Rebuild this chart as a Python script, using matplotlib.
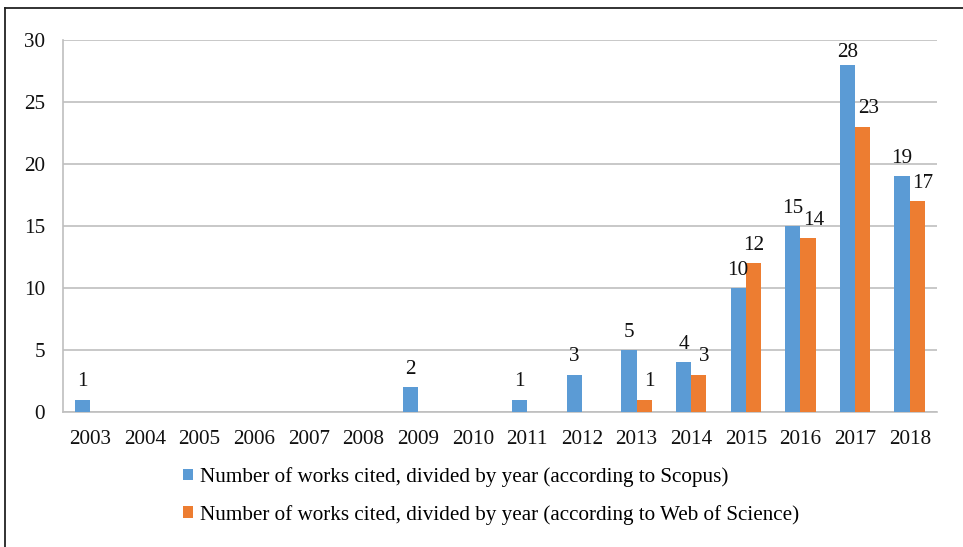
import matplotlib
matplotlib.use("Agg")
import matplotlib.pyplot as plt
from matplotlib.lines import Line2D
from matplotlib.patches import Patch
import numpy as np

years = ["2003", "2004", "2005", "2006", "2007", "2008", "2009", "2010",
         "2011", "2012", "2013", "2014", "2015", "2016", "2017", "2018"]
scopus = [1, 0, 0, 0, 0, 0, 2, 0, 1, 3, 5, 4, 10, 15, 28, 19]
wos = [0, 0, 0, 0, 0, 0, 0, 0, 0, 0, 1, 3, 12, 14, 23, 17]
series_names = [
    "Number of works cited, divided by year (according to Scopus)",
    "Number of works cited, divided by year (according to Web of Science)",
]
y_ticks = [0, 5, 10, 15, 20, 25, 30]

BLUE = "#5B9BD5"
ORANGE = "#ED7D31"
GRID = "#BFBFBF"
TXT = "#111111"
FS = 15.2
YMAX = 30

plt.rcParams["font.family"] = ["Liberation Serif", "DejaVu Serif"]

fig = plt.figure(figsize=(9.63, 5.47), dpi=100)
ax = fig.add_axes([63 / 963, 1 - 412 / 547, (937 - 63) / 963, (412 - 40) / 547])

x = np.arange(len(years))
w = 0.28
b1 = ax.bar(x - w / 2, scopus, width=w, color=BLUE, zorder=3)
b2 = ax.bar(x + w / 2, wos, width=w, color=ORANGE, zorder=3)


def value_label(rect, v, dx=0):
    cx = rect.get_x() + rect.get_width() / 2
    if v > YMAX - 2.5:
        # keep the label inside the plot area when the bar nearly reaches the top
        ax.annotate(str(v), (cx, YMAX), xytext=(dx, -2), textcoords="offset points",
                    ha="center", va="top", fontsize=FS, color=TXT)
    else:
        ax.annotate(str(v), (cx, v), xytext=(dx, 6), textcoords="offset points",
                    ha="center", va="bottom", fontsize=FS, color=TXT)


for rect, v in zip(b1, scopus):
    if v > 0:
        value_label(rect, v)
for rect, v, other in zip(b2, wos, scopus):
    if v > 0:
        value_label(rect, v, dx=4 if other > v else 0)

ax.set_xlim(-0.5, len(years) - 0.5)
ax.set_ylim(0, YMAX)
ax.set_yticks(y_ticks)
ax.set_xticks(x)
ax.set_xticklabels(years)
ax.tick_params(axis="both", length=0, labelsize=FS, colors=TXT)
ax.tick_params(axis="y", pad=13)
ax.tick_params(axis="x", pad=13)
ax.yaxis.grid(True, color=GRID, linewidth=1.2, zorder=0)
ax.set_axisbelow(True)
for s in ("top", "right"):
    ax.spines[s].set_visible(False)
for s in ("left", "bottom"):
    ax.spines[s].set_color(GRID)
    ax.spines[s].set_linewidth(1.2)

handles = [Patch(facecolor=BLUE, edgecolor="none"),
           Patch(facecolor=ORANGE, edgecolor="none")]
fig.legend(handles, series_names, loc="upper left",
           bbox_to_anchor=(183 / 963, 1 - 467 / 547), frameon=False,
           fontsize=FS, handlelength=0.47, handleheight=0.47,
           handletextpad=0.33, labelspacing=0.85, borderpad=0, borderaxespad=0)

# frame lines along the left and top edges
fig.add_artist(Line2D([5 / 963, 5 / 963], [0, 1 - 8 / 547],
                      transform=fig.transFigure, color="#222222", linewidth=1.3))
fig.add_artist(Line2D([5 / 963, 1], [1 - 8 / 547, 1 - 8 / 547],
                      transform=fig.transFigure, color="#222222", linewidth=1.3))

fig.savefig("out.png", dpi=100)
